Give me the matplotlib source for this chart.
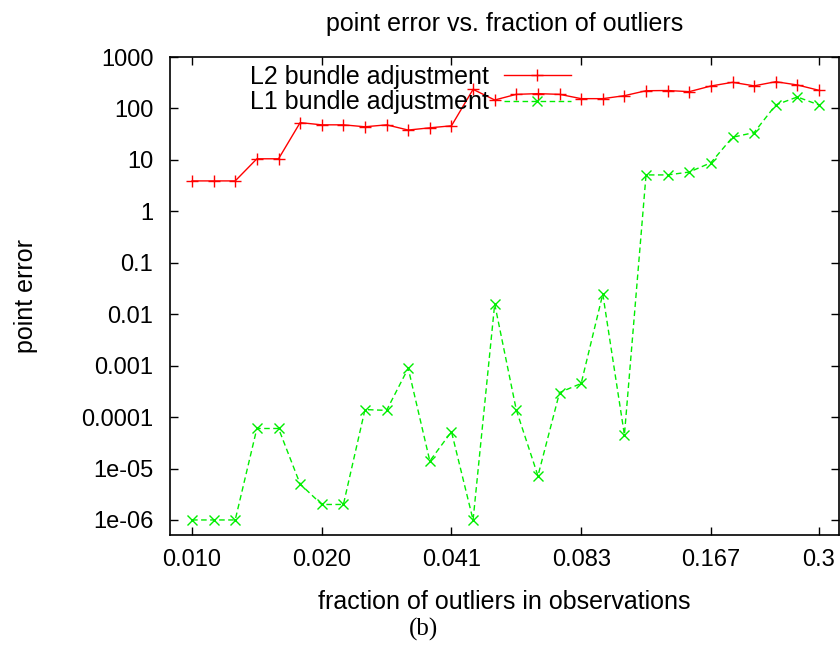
import numpy as np
import matplotlib
matplotlib.use("Agg")
import matplotlib.pyplot as plt

# fraction of outliers (x), one point per 1/6 octave
fraction = [0.01042, 0.01169, 0.01312, 0.01473, 0.01654, 0.01856,
            0.02083, 0.02339, 0.02625, 0.02946, 0.03307, 0.03712,
            0.04167, 0.04677, 0.05250, 0.05893, 0.06615, 0.07425,
            0.08333, 0.09354, 0.10500, 0.11786, 0.13229, 0.14849,
            0.16667, 0.18708, 0.20999, 0.23571, 0.26457, 0.29697]

# point error, L2 bundle adjustment
err_l2 = [3.9, 3.9, 3.9, 10.5, 10.5, 53, 48, 48, 44, 48,
          38, 42, 46, 235, 146, 188, 194, 188, 155, 155,
          177, 221, 223, 212, 273, 322, 275, 331, 286, 225]

# point error, L1 bundle adjustment
err_l1 = [1e-6, 1e-6, 1e-6, 6.0e-5, 6.0e-5, 5.0e-6, 2.0e-6, 2.0e-6, 1.4e-4, 1.35e-4,
          8.9e-4, 1.4e-5, 5.2e-5, 1e-6, 0.0158, 1.37e-4, 7.2e-6, 3.0e-4, 4.5e-4, 0.0247,
          4.5e-5, 5.1, 5.1, 5.8, 8.8, 27.5, 34, 117, 167, 117]

xtick_pos = [0.01042, 0.02083, 0.04167, 0.08333, 0.16667, 0.29697]
xtick_lab = ['0.010', '0.020', '0.041', '0.083', '0.167', '0.3']
ytick_pos = [1e-6, 1e-5, 1e-4, 1e-3, 1e-2, 1e-1, 1, 10, 100, 1000]
ytick_lab = ['1e-06', '1e-05', '0.0001', '0.001', '0.01', '0.1', '1', '10', '100', '1000']

plt.rcParams['font.family'] = ['Liberation Sans', 'DejaVu Sans']

W, H = 840, 647
fig = plt.figure(figsize=(W / 100, H / 100), dpi=100)
ax = fig.add_axes([170 / W, 1 - 535 / H, (839 - 170) / W, (535 - 57) / H])

ax.plot(fraction, err_l2, color='#ff0000', lw=1.0, marker='+', ms=8, mew=1.0,
        label='L2 bundle adjustment')
ax.plot(fraction, err_l1, color='#00ee00', lw=1.0, ls=(0, (4, 2.5)), marker='x', ms=7, mew=1.0,
        label='L1 bundle adjustment')

ax.set_xscale('log')
ax.set_yscale('log')
ax.set_xlim(0.00926, 0.3305)
ax.set_ylim(5.1e-7, 1000)

ax.set_xticks(xtick_pos)
ax.set_xticklabels(xtick_lab)
ax.set_yticks(ytick_pos)
ax.set_yticklabels(ytick_lab)
ax.minorticks_off()
ax.tick_params(direction='in', length=6, width=1.0, top=True, right=True,
               labelsize=17, pad=10)
ax.tick_params(axis='y', pad=12)
for s in ax.spines.values():
    s.set_linewidth(1.2)

ax.set_title('point error vs. fraction of outliers', fontsize=18, pad=19)
ax.set_xlabel('fraction of outliers in observations', fontsize=18, labelpad=14)
ax.set_ylabel('point error', fontsize=18, labelpad=31)

leg = ax.legend(loc='upper right', bbox_to_anchor=(571 / W, 1 - 65 / H),
                bbox_transform=fig.transFigure, frameon=False, markerfirst=False,
                fontsize=18, handlelength=2.7, handletextpad=0.6,
                labelspacing=0.06, borderpad=0, borderaxespad=0)

fig.text(424 / W, 1 - 629 / H, '(b)', fontsize=18, family='Liberation Serif',
         ha='center', va='center')

fig.savefig('out.png', dpi=100)
